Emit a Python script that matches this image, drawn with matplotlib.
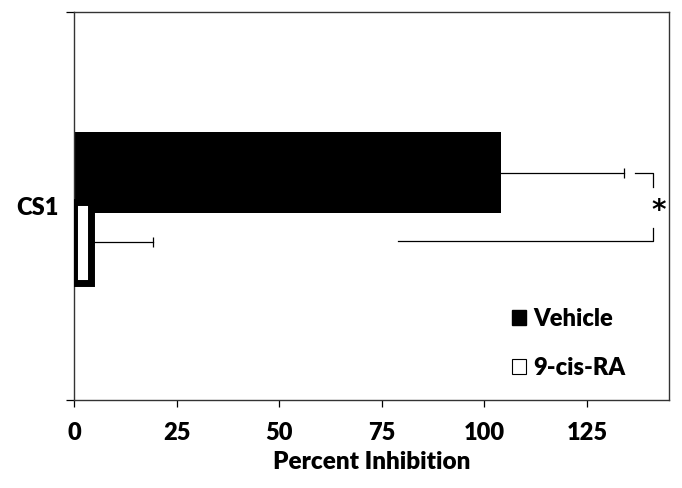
import matplotlib
matplotlib.use("Agg")
import matplotlib.pyplot as plt
from matplotlib.patches import Patch

plt.rcParams["font.family"] = ["Lato", "DejaVu Sans"]
plt.rcParams["font.weight"] = "heavy"

# data
category = "CS1"
groups = ["Vehicle", "9-cis-RA"]
values = [104.0, 4.2]
errors = [30.0, 15.0]
x_ticks = [0, 25, 50, 75, 100, 125]

# styles
bar_offsets = [0.086, -0.094]
bar_height = 0.21
faces = ["black", "white"]
fs = 17
fw = "heavy"

fig = plt.figure(figsize=(6.82, 4.88), dpi=100)
ax = fig.add_axes([0.1085, 0.1803, 0.8725, 0.7951])

for i, (name, val, err) in enumerate(zip(groups, values, errors)):
    y = bar_offsets[i]
    if faces[i] == "white":
        ax.barh(y, val, height=bar_height, color="white", edgecolor="black",
                linewidth=5, zorder=3)
    else:
        ax.barh(y, val, height=bar_height, color="black", edgecolor="black",
                linewidth=0, zorder=2)
    # one-sided error bar with a cap at the far end only
    ax.plot([val, val + err], [y, y], color="black", lw=0.9, zorder=4)
    ax.plot([val + err], [y], marker="|", markersize=7, mew=0.9,
            color="black", zorder=4)

# significance bracket
top_y = bar_offsets[0]
bot_y = bar_offsets[1] + 0.004
bx = max(v + e for v, e in zip(values, errors)) + 7.2
ax.plot([values[0] + errors[0] + 2.6, bx, bx], [top_y, top_y, top_y - 0.036],
        color="black", lw=0.9, zorder=4)
ax.plot([79, bx, bx], [bot_y, bot_y, bot_y + 0.033], color="black", lw=0.9,
        zorder=4)
ax.text(bx + 1.2, (top_y + bot_y) / 2 - 0.012, "*", ha="center", va="center",
        fontsize=20, fontweight="bold", family="DejaVu Sans")

ax.set_xlim(0, 145)
ax.set_ylim(-0.5, 0.5)
ax.set_xticks(x_ticks)
ax.set_xticklabels([str(t) for t in x_ticks], fontsize=fs, fontweight=fw)
ax.tick_params(axis="x", direction="out", length=5, width=0.9, pad=11)

ax.set_yticks([0])
ax.set_yticklabels([category], fontsize=fs, fontweight=fw)
ax.tick_params(axis="y", which="major", length=0, pad=11)
ax.set_yticks([-0.5, 0.5], minor=True)
ax.tick_params(axis="y", which="minor", direction="out", length=6, width=0.9)

for s in ax.spines.values():
    s.set_linewidth(1.0)
    s.set_color("#333333")

ax.set_xlabel("Percent Inhibition", fontsize=fs + 0.5, fontweight=fw,
              labelpad=5)

handles = [Patch(facecolor="black", edgecolor="black"),
           Patch(facecolor="white", edgecolor="black", linewidth=0.8)]
ax.legend(handles, groups, loc="lower left", bbox_to_anchor=(0.70, 0.0),
          frameon=False, prop={"size": fs, "weight": fw},
          handlelength=0.6, handleheight=0.6, handletextpad=0.3,
          labelspacing=1.15)

fig.savefig("out.png", dpi=100)
